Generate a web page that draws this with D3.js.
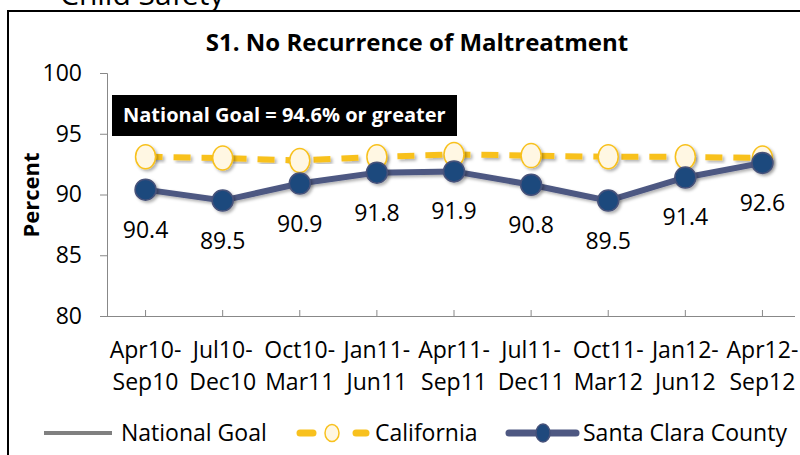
<!DOCTYPE html>
<html>
<head>
<meta charset="utf-8">
<script src="https://cdn.jsdelivr.net/npm/d3@7"></script>
<style>
  body { margin: 0; background: #fff; }
  svg text { font-family: "Open Sans", Lato, sans-serif; }
</style>
</head>
<body>
<div id="chart"></div>
<script>
// data
var periodsTop = ["Apr10-", "Jul10-", "Oct10-", "Jan11-", "Apr11-", "Jul11-", "Oct11-", "Jan12-", "Apr12-"];
var periodsBottom = ["Sep10", "Dec10", "Mar11", "Jun11", "Sep11", "Dec11", "Mar12", "Jun12", "Sep12"];
var santaClara = [90.4, 89.5, 90.9, 91.8, 91.9, 90.8, 89.5, 91.4, 92.6];
var california = [93.1, 93.0, 92.8, 93.1, 93.3, 93.2, 93.1, 93.1, 93.0];
var nationalGoal = 94.6;
var yTicks = [80, 85, 90, 95, 100];

var w = 800, h = 455;

var svg = d3.select("#chart").append("svg")
  .attr("width", w).attr("height", h);

// soft shadow like the office chart
var defs = svg.append("defs");
var f = defs.append("filter").attr("id", "shadow")
  .attr("x", "-50%").attr("y", "-50%").attr("width", "200%").attr("height", "200%");
f.append("feDropShadow").attr("dx", 2).attr("dy", 2).attr("stdDeviation", 1.5)
  .attr("flood-color", "#000").attr("flood-opacity", 0.3);

// heading cut off at top
svg.append("text").attr("x", 60).attr("y", 5)
  .attr("font-size", "30px").attr("fill", "#000").text("Child Safety");

// frame
svg.append("rect").attr("x", 8).attr("y", 11).attr("width", 900).attr("height", 500)
  .attr("fill", "none").attr("stroke", "#000").attr("stroke-width", 2);

var keys = d3.range(periodsTop.length);
var xScale = d3.scaleBand().domain(keys).range([107, 801]);
var cx = function (i) { return xScale(i) + xScale.bandwidth() / 2; };
var yScale = d3.scaleLinear().domain([80, 100]).range([316, 73]);

// title
svg.append("text").attr("x", 417).attr("y", 51).attr("text-anchor", "middle")
  .attr("font-size", "24px").attr("font-weight", "bold").text("S1. No Recurrence of Maltreatment");

// y axis
var yAxis = d3.axisLeft(yScale).tickValues(yTicks).tickSize(7).tickPadding(18);
var gy = svg.append("g").attr("transform", "translate(107,0)").call(yAxis);
gy.selectAll("text").attr("font-size", "23px").attr("fill", "#000")
  .style("font-family", "'Open Sans', Lato, sans-serif");
gy.selectAll("line").attr("stroke", "#888");
gy.select(".domain").attr("stroke", "#888").attr("d", "M-7,73.5H0.5V316.5");

svg.append("text").attr("transform", "translate(39,195) rotate(-90)")
  .attr("text-anchor", "middle").attr("font-size", "22px").attr("font-weight", "bold")
  .text("Percent");

// x axis
var xAxis = d3.axisBottom(xScale).tickSize(-6).tickFormat("");
var gx = svg.append("g").attr("transform", "translate(0,316)").call(xAxis);
gx.selectAll("line").attr("stroke", "#888");
gx.select(".domain").attr("stroke", "#888").attr("d", "M100,0.5H795");

svg.selectAll(".cat1").data(keys).enter().append("text")
  .attr("x", cx).attr("y", 358).attr("text-anchor", "middle").attr("font-size", "23px")
  .text(function (i) { return periodsTop[i]; });
svg.selectAll(".cat2").data(keys).enter().append("text")
  .attr("x", cx).attr("y", 390).attr("text-anchor", "middle").attr("font-size", "23px")
  .text(function (i) { return periodsBottom[i]; });

// national goal line
svg.append("line")
  .attr("x1", cx(0)).attr("x2", cx(keys.length - 1))
  .attr("y1", yScale(nationalGoal)).attr("y2", yScale(nationalGoal))
  .attr("stroke", "#808080").attr("stroke-width", 4).attr("filter", "url(#shadow)");

// label box
svg.append("rect").attr("x", 112).attr("y", 95).attr("width", 345).attr("height", 41).attr("fill", "#000");
svg.append("text").attr("x", 123).attr("y", 122).attr("font-size", "20px").attr("font-weight", "bold")
  .attr("fill", "#fff").text("National Goal = 94.6% or greater");

var line = d3.line().x(function (d, i) { return cx(i); }).y(function (d) { return yScale(d); });

// california
svg.append("path").datum(california).attr("d", line).attr("fill", "none")
  .attr("stroke", "#F8C11E").attr("stroke-width", 6).attr("stroke-dasharray", "17,11")
  .attr("filter", "url(#shadow)");
svg.selectAll(".ca").data(california).enter().append("ellipse")
  .attr("cx", function (d, i) { return cx(i); }).attr("cy", yScale)
  .attr("rx", 10).attr("ry", 12)
  .attr("fill", "#FFF7E3").attr("stroke", "#F8C11E").attr("stroke-width", 1.5)
  .attr("filter", "url(#shadow)");

// santa clara
svg.append("path").datum(santaClara).attr("d", line).attr("fill", "none")
  .attr("stroke", "#4E5882").attr("stroke-width", 6).attr("filter", "url(#shadow)");
svg.selectAll(".sc").data(santaClara).enter().append("circle")
  .attr("cx", function (d, i) { return cx(i); }).attr("cy", yScale).attr("r", 10.5)
  .attr("fill", "#1F497D").attr("stroke", "#47527A").attr("stroke-width", 1.5)
  .attr("filter", "url(#shadow)");
svg.selectAll(".sclab").data(santaClara).enter().append("text")
  .attr("x", function (d, i) { return cx(i); }).attr("y", function (d) { return yScale(d) + 48; })
  .attr("text-anchor", "middle").attr("font-size", "23px")
  .text(function (d) { return d.toFixed(1); });

// legend
var ly = 433;
svg.append("line").attr("x1", 44).attr("x2", 112).attr("y1", ly).attr("y2", ly)
  .attr("stroke", "#808080").attr("stroke-width", 4);
svg.append("text").attr("x", 121).attr("y", ly + 8).attr("font-size", "23px").text("National Goal");

svg.append("line").attr("x1", 300).attr("x2", 366).attr("y1", ly).attr("y2", ly)
  .attr("stroke", "#F8C11E").attr("stroke-width", 7).attr("stroke-dasharray", "13,43")
  .attr("stroke-linecap", "round");
svg.append("ellipse").attr("cx", 332).attr("cy", ly).attr("rx", 7).attr("ry", 8.5)
  .attr("fill", "#FFF7E3").attr("stroke", "#F8C11E").attr("stroke-width", 1.5);
svg.append("text").attr("x", 375).attr("y", ly + 8).attr("font-size", "23px").text("California");

svg.append("line").attr("x1", 509).attr("x2", 576).attr("y1", ly).attr("y2", ly)
  .attr("stroke", "#4E5882").attr("stroke-width", 7).attr("stroke-linecap", "round");
svg.append("ellipse").attr("cx", 543).attr("cy", ly).attr("rx", 7).attr("ry", 9)
  .attr("fill", "#1F497D").attr("stroke", "#47527A").attr("stroke-width", 1.5);
svg.append("text").attr("x", 583).attr("y", ly + 8).attr("font-size", "23px").text("Santa Clara County");
</script>
</body>
</html>
